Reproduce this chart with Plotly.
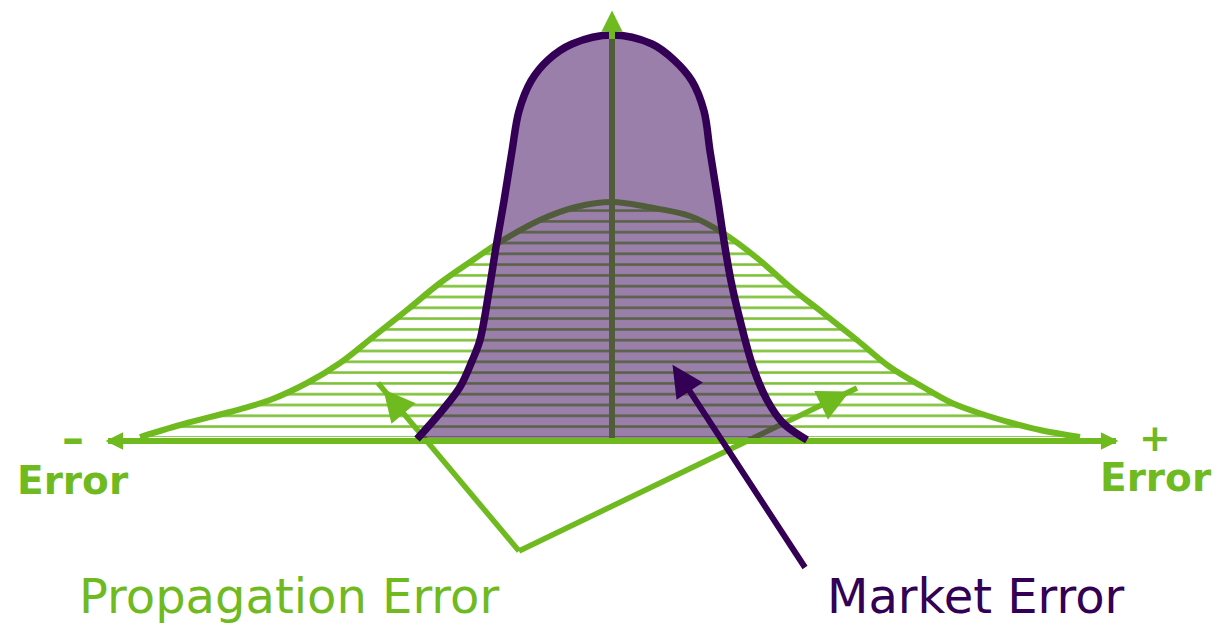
import math
import plotly.graph_objects as go

GREEN = "#6fba1f"
PURPLE = "#330055"
PURPLE_FILL = "rgba(51,0,85,0.5)"

# wide distribution (propagation error): offset from centre, height above axis
prop_x = [-472, -425, -382, -342, -305, -272, -239, -205, -172, -139, -112, -72, -36, 0,
          36, 78, 111, 145, 178, 211, 245, 278, 311, 340, 370, 400, 428, 468]
prop_h = [4, 18, 29, 41, 58, 78, 104, 131, 158, 181, 199, 221, 234, 239,
          234, 225, 208, 183, 154, 128, 101, 74, 54, 38, 27, 18, 11, 4]

# narrow distribution (market error)
mkt_x = [-195, -172, -152, -140, -132, -123, -116, -108, -100, -93, -81, -64, -40, 0,
         40, 62, 80, 92, 98, 106, 112, 119, 128, 141, 155, 171, 195]
mkt_h = [2, 28, 54, 80, 101, 150, 194, 240, 290, 330, 360, 381, 397, 406,
         397, 381, 360, 330, 290, 240, 200, 160, 121, 74, 41, 18, 1]

# axes
x_axis_ends = [-504, 504]
y_axis_top = 424

# pointers
prop_vertex = (-93, -110)
prop_tips = [(-234, 58), (245, 53)]
mkt_tail = (194, -128)
mkt_tip = (56, 83)

fig = go.Figure()

fig.add_trace(go.Scatter(
    x=prop_x, y=prop_h, mode="lines", fill="toself",
    line=dict(color=GREEN, width=6, shape="spline", smoothing=1),
    fillcolor="rgba(0,0,0,0)",
    fillpattern=dict(shape="-", size=10.8, solidity=0.24, fgcolor=GREEN, fgopacity=0.9),
    hoverinfo="skip"))

fig.add_trace(go.Scatter(
    x=[0, 0], y=[0, y_axis_top], mode="lines",
    line=dict(color=GREEN, width=6), hoverinfo="skip"))

for tip in prop_tips:
    fig.add_trace(go.Scatter(
        x=[prop_vertex[0], tip[0]], y=[prop_vertex[1], tip[1]], mode="lines",
        line=dict(color=GREEN, width=5.5), hoverinfo="skip"))

fig.add_trace(go.Scatter(
    x=mkt_x, y=mkt_h, mode="lines", fill="toself", fillcolor=PURPLE_FILL,
    line=dict(width=0, shape="spline", smoothing=1), hoverinfo="skip"))

fig.add_trace(go.Scatter(
    x=x_axis_ends, y=[0, 0], mode="lines",
    line=dict(color=GREEN, width=6), hoverinfo="skip"))

fig.add_trace(go.Scatter(
    x=mkt_x, y=mkt_h, mode="lines",
    line=dict(color=PURPLE, width=7.5, shape="spline", smoothing=1), hoverinfo="skip"))


def head(tip, frm, color, width, size, back=30):
    # annotation arrow ending at tip; back=None draws the whole shaft from frm
    dx, dy = tip[0] - frm[0], tip[1] - frm[1]
    d = math.hypot(dx, dy)
    ux, uy = dx / d, dy / d
    over = 1.3 * width * size
    tx, ty = tip[0] - ux * over, tip[1] - uy * over
    if back is None:
        sx, sy = frm
    else:
        sx, sy = tx - ux * back, ty - uy * back
    fig.add_annotation(x=tx, y=ty, ax=sx, ay=sy,
                       xref="x", yref="y", axref="x", ayref="y", text="",
                       showarrow=True, arrowhead=2, arrowsize=size,
                       arrowwidth=width, arrowcolor=color, standoff=0)


head((-511, 0), (0, 0), GREEN, 5, 0.7)
head((511, 0), (0, 0), GREEN, 5, 0.7)
head((0, 436), (0, 0), GREEN, 6, 0.7)
for tip in prop_tips:
    head(tip, prop_vertex, GREEN, 5.5, 1.15)
head(mkt_tip, mkt_tail, PURPLE, 6, 1.05, back=None)

FONT = "DejaVu Sans"
labels = [
    ("–", -539, 4, 44, GREEN, True),
    ("+", 543, 3, 38, GREEN, True),
    ("Error", -539, -39, 39, GREEN, True),
    ("Error", 544, -36, 39, GREEN, True),
    ("Propagation Error", -323, -155, 48, GREEN, False),
    ("Market Error", 364, -155, 48, PURPLE, False),
]
for txt, lx, ly, sz, col, bold in labels:
    fig.add_annotation(x=lx, y=ly, xref="x", yref="y", text=f"<b>{txt}</b>" if bold else txt,
                       showarrow=False, font=dict(family=FONT, size=sz, color=col),
                       xanchor="center", yanchor="middle")

fig.update_layout(
    width=1221, height=623, margin=dict(l=0, r=0, t=0, b=0),
    paper_bgcolor="white", plot_bgcolor="white", showlegend=False,
    xaxis=dict(range=[-612, 609], visible=False, fixedrange=True),
    yaxis=dict(range=[-182, 441], visible=False, fixedrange=True),
)

fig.write_html("out.html", config={"displayModeBar": False},
               post_script="document.body.style.margin='0';")
